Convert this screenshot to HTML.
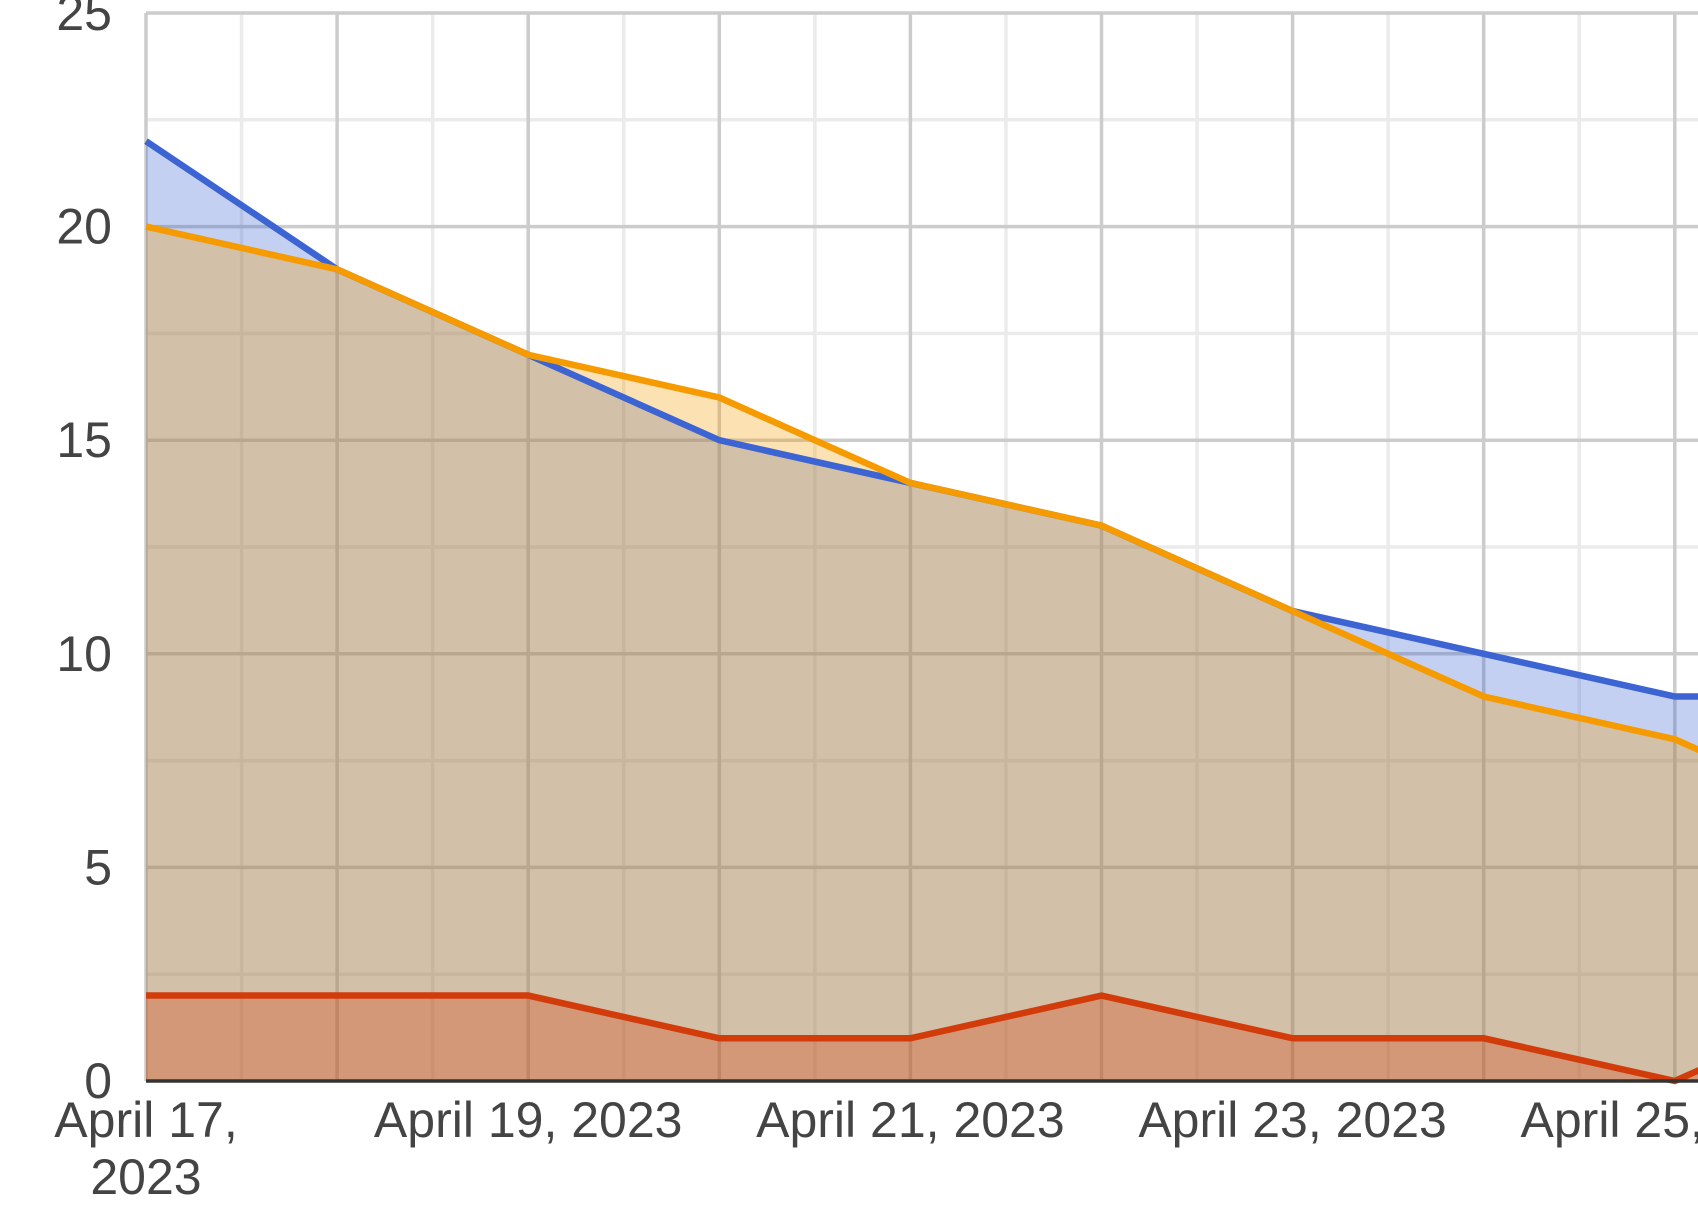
<!DOCTYPE html>
<html><head><meta charset="utf-8"><style>
html,body{margin:0;padding:0;background:#fff;width:1698px;height:1212px;overflow:hidden}
svg{display:block;font-family:"Liberation Sans",Arial,sans-serif}
</style></head><body>
<svg id="chart" width="1698" height="1212" viewBox="0 0 1698 1212"></svg>
<script>
const categories = ["April 17, 2023","April 18, 2023","April 19, 2023","April 20, 2023","April 21, 2023","April 22, 2023","April 23, 2023","April 24, 2023","April 25, 2023","April 26, 2023"];
const blueValues = [22,19,17,15,14,13,11,10,9,9];
const orangeValues = [20,19,17,16,14,13,11,9,8,6];
const redValues = [2,2,2,1,1,2,1,1,0,2];
const yTicks = [0,5,10,15,20,25];
const xLabelIdx = [0,2,4,6,8];

const NS="http://www.w3.org/2000/svg";
const svgEl=document.getElementById('chart');
const plotLeft=146, dayW=191.1, plotBase=1081, pxU=42.72, plotTop=13;
const X=i=>plotLeft+i*dayW;
const Y=v=>plotBase-v*pxU;
function mk(tag,attrs,parent){const e=document.createElementNS(NS,tag);for(const k in attrs)e.setAttribute(k,attrs[k]);(parent||svgEl).appendChild(e);return e;}

const grid=mk('g',{});


for(let v=2.5;v<25;v+=5){mk('line',{x1:plotLeft,x2:1698,y1:Y(v),y2:Y(v),stroke:'#ebebeb','stroke-width':3.5},grid);}
for(let i=0;i<categories.length;i++){mk('line',{x1:X(i+0.5),x2:X(i+0.5),y1:plotTop,y2:plotBase,stroke:'#ebebeb','stroke-width':3.5},grid);}
yTicks.forEach(v=>{if(v>0)mk('line',{x1:plotLeft,x2:1698,y1:Y(v),y2:Y(v),stroke:'#cccccc','stroke-width':3.5},grid);});
for(let i=0;i<categories.length;i++){mk('line',{x1:X(i),x2:X(i),y1:plotTop,y2:plotBase,stroke:'#cccccc','stroke-width':3.5},grid);}

function series(vals,color,name){
  const pts=vals.map((v,i)=>X(i)+','+Y(v)).join(' ');
  const area=mk('polygon',{points:X(0)+','+plotBase+' '+pts+' '+X(vals.length-1)+','+plotBase,fill:color,'fill-opacity':0.3});
  
  
}
function line(vals,color,name){
  const pts=vals.map((v,i)=>X(i)+','+Y(v)).join(' ');
  const l=mk('polyline',{points:pts,fill:'none',stroke:color,'stroke-width':6.5,'stroke-linejoin':'miter'});
  
  
}
series(blueValues,'#3c64d2','blue-series');
series(orangeValues,'#f59b00','orange-series');
series(redValues,'#d23c0a','red-series');
line(blueValues,'#3c64d2','blue-series');
line(orangeValues,'#f59b00','orange-series');
line(redValues,'#d23c0a','red-series');

const base=mk('line',{x1:plotLeft,x2:1698,y1:plotBase,y2:plotBase,stroke:'#333','stroke-width':3.5});



yTicks.forEach(v=>{
  const t=mk('text',{x:112,y:Y(v)+17,'text-anchor':'end','font-size':50,fill:'#444'});
  t.textContent=v;
  
  
});
xLabelIdx.forEach(i=>{
  const t=mk('text',{x:X(i),y:1137,'text-anchor':'middle','font-size':50,fill:'#444'});
  
  
  if(i===0){
    const parts=categories[i].split(' ');
    const a=mk('tspan',{x:X(i),y:1137},t);a.textContent=parts[0]+' '+parts[1];
    const b=mk('tspan',{x:X(i),y:1194},t);b.textContent=parts[2];
  } else t.textContent=categories[i];
});
</script>
</body></html>
